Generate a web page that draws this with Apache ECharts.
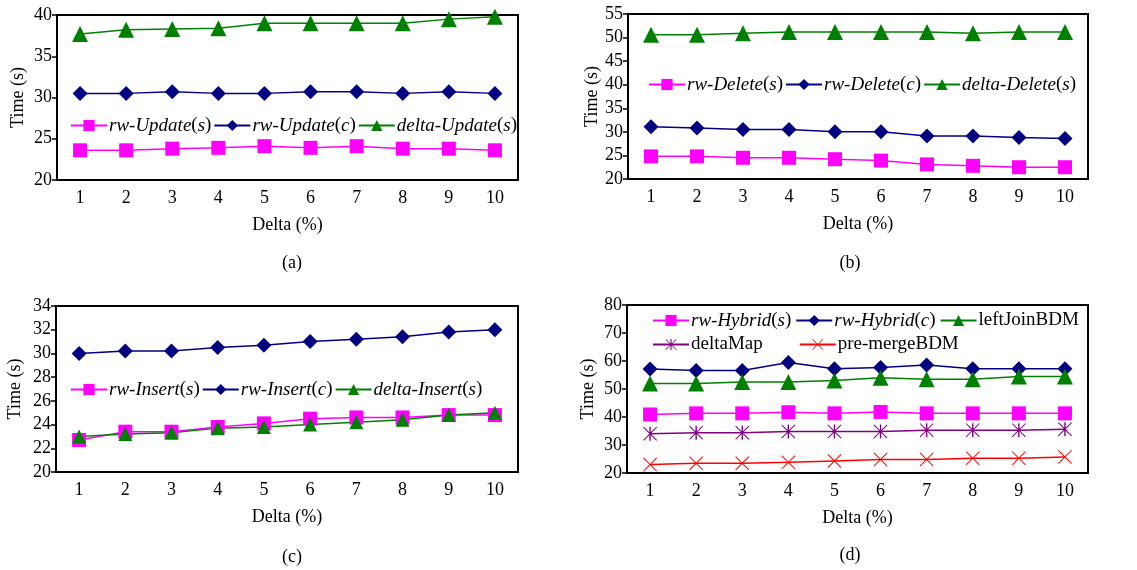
<!DOCTYPE html>
<html>
<head>
<meta charset="utf-8">
<script src="https://cdn.jsdelivr.net/npm/echarts@6/dist/echarts.min.js"></script>
<style>
  html, body { margin: 0; padding: 0; background: #fff; }
  #chart { width: 1137px; height: 570px; }
</style>
</head>
<body>
<div id="chart"></div>
<script>
// 横轴分类
const categories = ['1', '2', '3', '4', '5', '6', '7', '8', '9', '10'];

// (a) Update
const updRwS = [23.6, 23.6, 23.8, 23.9, 24.1, 23.9, 24.1, 23.8, 23.8, 23.6];
const updRwC = [30.5, 30.5, 30.7, 30.5, 30.5, 30.7, 30.7, 30.5, 30.7, 30.5];
const updDelta = [37.7, 38.2, 38.3, 38.4, 39.0, 39.0, 39.0, 39.0, 39.5, 39.8];

// (b) Delete
const delRwS = [24.8, 24.8, 24.5, 24.5, 24.2, 23.9, 23.1, 22.8, 22.5, 22.5];
const delRwC = [31.1, 30.8, 30.5, 30.5, 30.0, 30.0, 29.1, 29.1, 28.8, 28.6];
const delDelta = [50.6, 50.6, 50.9, 51.2, 51.2, 51.2, 51.2, 50.9, 51.2, 51.2];

// (c) Insert
const insRwS = [22.7, 23.4, 23.4, 23.8, 24.1, 24.5, 24.6, 24.6, 24.8, 24.8];
const insRwC = [30.0, 30.2, 30.2, 30.5, 30.7, 31.0, 31.2, 31.4, 31.8, 32.0];
const insDelta = [23.0, 23.2, 23.3, 23.7, 23.8, 24.0, 24.2, 24.4, 24.8, 25.0];

// (d) Hybrid
const hybRwS = [40.9, 41.3, 41.3, 41.7, 41.3, 41.8, 41.3, 41.3, 41.3, 41.3];
const hybRwC = [57.1, 56.6, 56.6, 59.5, 57.2, 57.7, 58.6, 57.2, 57.2, 57.2];
const hybLeftJoin = [52.0, 52.0, 52.5, 52.5, 53.0, 54.0, 53.5, 53.5, 54.5, 54.5];
const hybDeltaMap = [34.0, 34.4, 34.4, 34.8, 34.8, 34.8, 35.3, 35.3, 35.3, 35.6];
const hybPreMerge = [23.0, 23.5, 23.5, 23.8, 24.3, 24.8, 24.8, 25.3, 25.3, 25.7];

// 纵轴刻度 [min, max, interval]
const yTicksA = [20, 40, 5];
const yTicksB = [20, 55, 5];
const yTicksC = [20, 34, 2];
const yTicksD = [20, 80, 10];

const FONT = '"Liberation Serif", "DejaVu Serif", serif';
const PINK = '#ff00ff', NAVY = '#000080', GREEN = '#008000', PURPLE = '#800080', RED = '#ff0000';

// 星号 / 叉号
const STAR = 'path://M9,0 L11,0 L11,20 L9,20 Z M0,1 L1,0 L10,9 L19,0 L20,1 L11,10 L20,19 L19,20 L10,11 L1,20 L0,19 L9,10 Z';
const CROSS = 'path://M0,1 L1,0 L10,9 L19,0 L20,1 L11,10 L20,19 L19,20 L10,11 L1,20 L0,19 L9,10 Z';

const grids = [
  { left: 57, top: 15, width: 461, height: 165 },
  { left: 628, top: 14, width: 460, height: 165 },
  { left: 56, top: 306, width: 462, height: 166 },
  { left: 627, top: 305, width: 461, height: 168 }
];
const yTicks = [yTicksA, yTicksB, yTicksC, yTicksD];
const yNameGap = [30, 27, 32, 30];

function line(name, data, idx, symbol, color, size) {
  return {
    name: name,
    type: 'line',
    xAxisIndex: idx,
    yAxisIndex: idx,
    data: data,
    symbol: symbol,
    symbolSize: size,
    itemStyle: { color: color },
    lineStyle: { color: color, width: 1.5 },
    emphasis: { disabled: true }
  };
}

// 斜体名称：rw-Update(s) -> {it|rw-Update}({it|s})
function legendFmt(name) {
  const m = name.match(/^(.*)\((.)\)$/);
  return m ? '{it|' + m[1] + '}({it|' + m[2] + '})' : name;
}

function legend(left, top, names, gap) {
  return {
    left: left,
    top: top,
    padding: 0,
    itemWidth: 36,
    itemHeight: 14,
    itemGap: gap,
    selectedMode: false,
    data: names,
    formatter: legendFmt,
    textStyle: {
      fontFamily: FONT,
      fontSize: 19,
      color: '#000',
      padding: [0, 0, 0, -3],
      rich: { it: { fontFamily: FONT, fontSize: 19, fontStyle: 'italic', color: '#000' } }
    }
  };
}

const option = {
  backgroundColor: '#fff',
  animation: false,
  grid: grids.map(g => Object.assign({ show: true, borderColor: '#000', borderWidth: 2, backgroundColor: 'transparent' }, g)),
  xAxis: grids.map((g, i) => ({
    gridIndex: i,
    type: 'category',
    data: categories,
    boundaryGap: true,
    axisLine: { lineStyle: { color: '#000', width: 2 } },
    axisTick: { inside: true, length: 5, lineStyle: { color: '#000', width: 1.5 } },
    axisLabel: { color: '#000', fontFamily: FONT, fontSize: 18, margin: 9 },
    name: 'Delta (%)',
    nameLocation: 'middle',
    nameGap: 36,
    nameTextStyle: { color: '#000', fontFamily: FONT, fontSize: 18 }
  })),
  yAxis: grids.map((g, i) => ({
    gridIndex: i,
    type: 'value',
    min: yTicks[i][0],
    max: yTicks[i][1],
    interval: yTicks[i][2],
    axisLine: { show: true, lineStyle: { color: '#000', width: 2 } },
    axisTick: { show: true, length: 5, lineStyle: { color: '#000', width: 1.5 } },
    splitLine: { show: false },
    axisLabel: { color: '#000', fontFamily: FONT, fontSize: 18, margin: 5 },
    name: 'Time (s)',
    nameLocation: 'middle',
    nameGap: yNameGap[i],
    nameTextStyle: { color: '#000', fontFamily: FONT, fontSize: 18 }
  })),
  legend: [
    legend(70, 116, ['rw-Update(s)', 'rw-Update(c)', 'delta-Update(s)'], 2),
    legend(648, 75, ['rw-Delete(s)', 'rw-Delete(c)', 'delta-Delete(s)'], 2),
    legend(70, 380, ['rw-Insert(s)', 'rw-Insert(c)', 'delta-Insert(s)'], 2),
    legend(652, 311, ['rw-Hybrid(s)', 'rw-Hybrid(c)', 'leftJoinBDM'], 4),
    legend(652, 335, ['deltaMap', 'pre-mergeBDM'], 36)
  ],
  graphic: [
    ['(a)', 292, 263], ['(b)', 850, 263], ['(c)', 292, 557], ['(d)', 850, 555]
  ].map(c => ({
    type: 'text',
    x: c[1],
    y: c[2],
    style: { text: c[0], fill: '#000', font: '18px ' + FONT, align: 'center', verticalAlign: 'middle' }
  })),
  series: [
    line('rw-Update(s)', updRwS, 0, 'rect', PINK, 14),
    line('rw-Update(c)', updRwC, 0, 'diamond', NAVY, 15),
    line('delta-Update(s)', updDelta, 0, 'triangle', GREEN, 16),

    line('rw-Delete(s)', delRwS, 1, 'rect', PINK, 14),
    line('rw-Delete(c)', delRwC, 1, 'diamond', NAVY, 15),
    line('delta-Delete(s)', delDelta, 1, 'triangle', GREEN, 16),

    line('rw-Insert(s)', insRwS, 2, 'rect', PINK, 14),
    line('rw-Insert(c)', insRwC, 2, 'diamond', NAVY, 15),
    line('delta-Insert(s)', insDelta, 2, 'triangle', GREEN, 14),

    line('rw-Hybrid(s)', hybRwS, 3, 'rect', PINK, 14),
    line('rw-Hybrid(c)', hybRwC, 3, 'diamond', NAVY, 15),
    line('leftJoinBDM', hybLeftJoin, 3, 'triangle', GREEN, 16),
    line('deltaMap', hybDeltaMap, 3, STAR, PURPLE, 14),
    line('pre-mergeBDM', hybPreMerge, 3, CROSS, RED, 14)
  ]
};

const chart = echarts.init(document.getElementById('chart'), null, { renderer: 'canvas' });
chart.setOption(option);
</script>
</body>
</html>
